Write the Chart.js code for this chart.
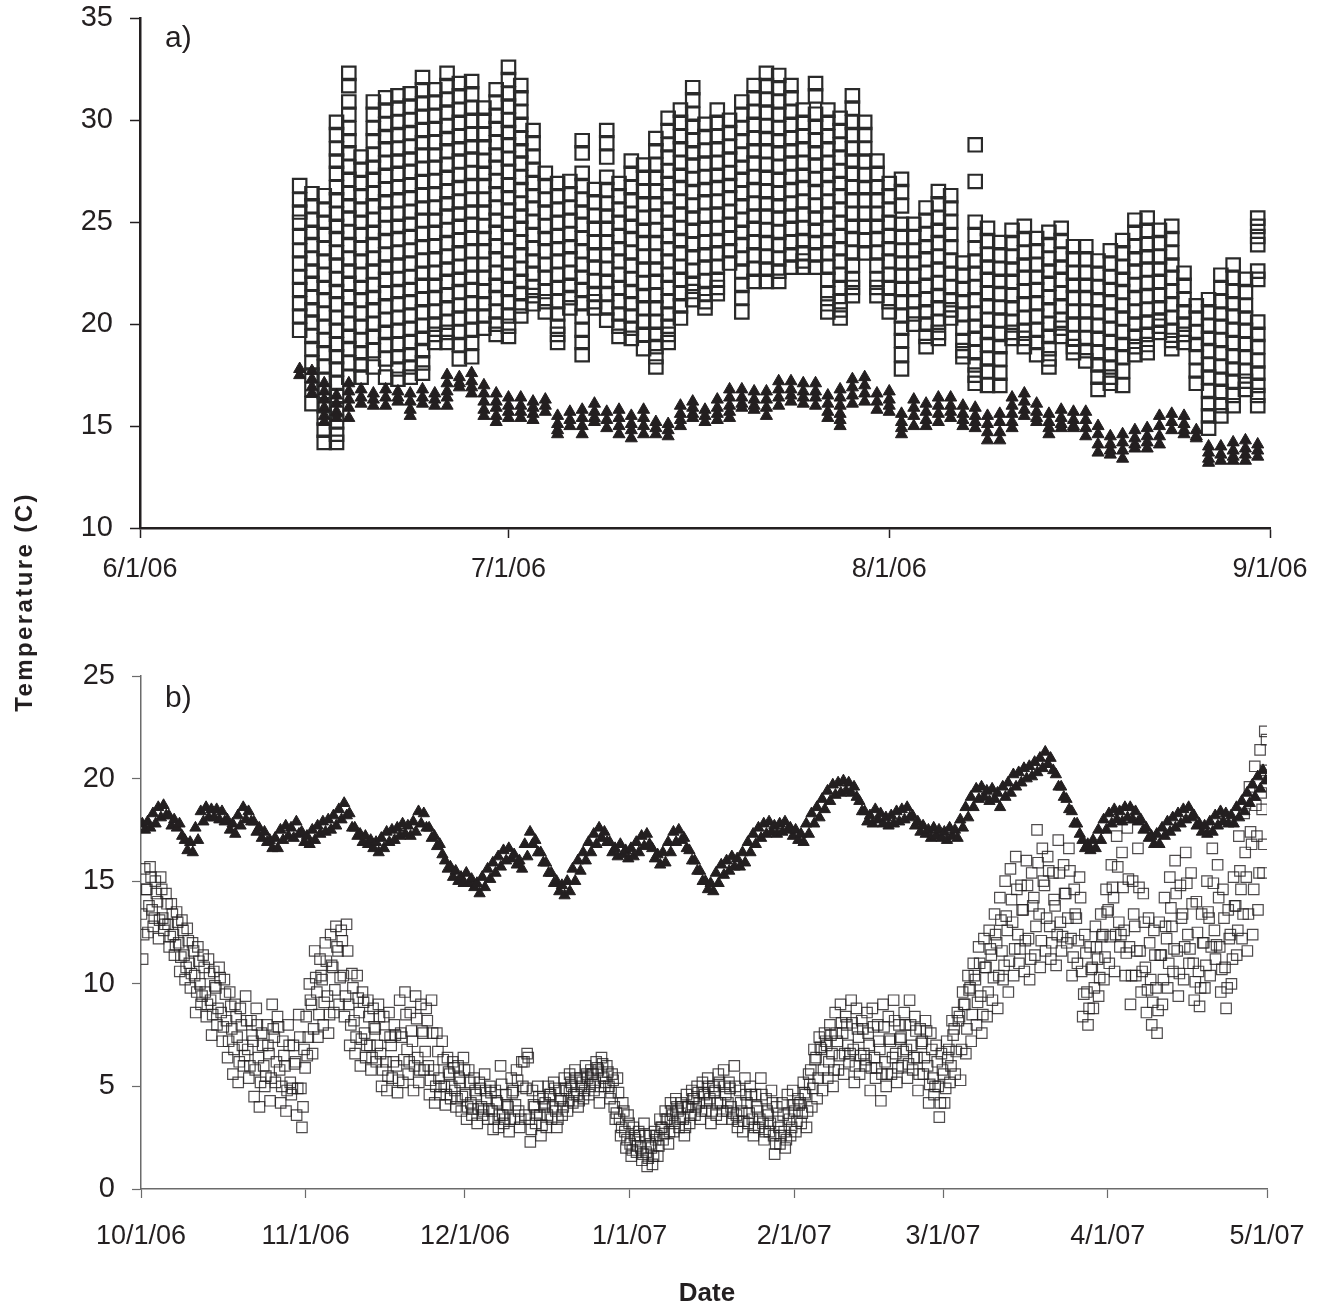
<!DOCTYPE html>
<html>
<head>
<meta charset="utf-8">
<script src="https://cdn.jsdelivr.net/npm/chart.js@4.4.1/dist/chart.umd.min.js"></script>
<style>
  body { margin: 0; background: #fff; width: 1328px; height: 1305px; position: relative; overflow: hidden;
         font-family: 'Liberation Sans', Arial, sans-serif; color: #231f20; }
  canvas { position: absolute; left: 0; }
  #chartA { top: -16px; }
  #chartB { top: 640px; }
  .panel { position: absolute; font-size: 30px; line-height: 30px; }
  #ytitle { position: absolute; left: -176px; top: 587px; width: 400px; text-align: center;
            font-weight: bold; font-size: 24px; line-height: 30px; letter-spacing: 2.4px;
            transform: rotate(-90deg); }
  #xtitle { position: absolute; left: 607px; top: 1278px; width: 200px; text-align: center;
            font-weight: bold; font-size: 26px; line-height: 28px; }
</style>
</head>
<body>
<canvas id="chartA" width="1328" height="616"></canvas>
<canvas id="chartB" width="1328" height="665"></canvas>
<div class="panel" style="left:165px; top:22px;">a)</div>
<div class="panel" style="left:165px; top:682px;">b)</div>
<div id="ytitle">Temperature (C)</div>
<div id="xtitle">Date</div>
<script>
// Axis ticks (days counted from the first tick)
const tickDaysA = [0, 30, 61, 92];
const tickLabelsA = ['6/1/06', '7/1/06', '8/1/06', '9/1/06'];
const tickDaysB = [0, 31, 61, 92, 123, 151, 182, 212];
const tickLabelsB = ['10/1/06', '11/1/06', '12/1/06', '1/1/07', '2/1/07', '3/1/07', '4/1/07', '5/1/07'];

// a) summer 2006, one column of readings per day, first column = 6/14/06
const firstDayA = 13;
const airA = [
  [26.8,26.1,25.5,25.0,24.3,23.6,23.0,22.3,21.7,21.0,20.4,19.7],
  [26.4,25.8,25.1,24.5,23.9,23.2,22.6,22.0,21.3,20.7,20.1,19.4,18.8,18.1,17.5,16.8,16.1],
  [26.3,25.6,25.0,24.4,23.7,23.1,22.4,21.8,21.2,20.5,19.9,19.2,18.6,17.9,17.3,16.7,16.0,15.4,14.8,14.2],
  [29.9,29.3,28.6,28.0,27.4,26.7,26.1,25.4,24.8,24.2,23.5,22.9,22.2,21.6,21.0,20.3,19.7,19.0,18.4,17.8,17.1,16.5,15.8,15.2,14.6,14.2],
  [32.3,31.7,30.9,30.3,29.6,29.0,28.4,27.7,27.1,26.4,25.8,25.2,24.5,23.9,23.2,22.6,22.0,21.3,20.7,20.0,19.4,18.8,18.1,17.4],
  [28.2,27.6,26.9,26.3,25.6,25.0,24.4,23.7,23.1,22.4,21.8,21.2,20.5,19.9,19.2,18.6,18.0,17.4],
  [30.9,30.3,29.6,29.0,28.3,27.7,27.1,26.4,25.8,25.1,24.5,23.9,23.2,22.6,21.9,21.3,20.7,20.0,19.4,18.7,17.9],
  [31.1,30.5,29.8,29.2,28.6,27.9,27.3,26.6,26.0,25.4,24.7,24.1,23.4,22.8,22.2,21.5,20.9,20.2,19.6,19.0,18.3,17.4],
  [31.2,30.6,29.9,29.3,28.6,28.0,27.4,26.7,26.1,25.4,24.8,24.2,23.5,22.9,22.2,21.6,21.0,20.3,19.7,19.0,18.4,17.8,17.3],
  [31.3,30.7,30.0,29.4,28.7,28.1,27.5,26.8,26.2,25.5,24.9,24.3,23.6,23.0,22.3,21.7,21.1,20.4,19.8,19.1,18.5,17.9,17.4],
  [32.1,31.5,30.8,30.2,29.5,28.9,28.3,27.6,27.0,26.3,25.7,25.1,24.4,23.8,23.1,22.5,21.9,21.2,20.6,19.9,19.3,18.7,18.1,17.6],
  [31.5,30.9,30.2,29.6,28.9,28.3,27.7,27.0,26.4,25.7,25.1,24.5,23.8,23.2,22.5,21.9,21.3,20.6,20.0,19.5,19.1],
  [32.3,31.7,31.0,30.4,29.7,29.1,28.5,27.8,27.2,26.5,25.9,25.3,24.6,24.0,23.3,22.7,22.1,21.4,20.8,20.1,19.6,19.1],
  [31.8,31.2,30.5,29.9,29.2,28.6,28.0,27.3,26.7,26.0,25.4,24.8,24.1,23.5,22.8,22.2,21.6,20.9,20.3,19.6,19.0,18.3],
  [31.9,31.3,30.6,30.0,29.3,28.7,28.1,27.4,26.8,26.1,25.5,24.9,24.2,23.6,22.9,22.3,21.7,21.0,20.4,19.7,19.1,18.4],
  [30.6,30.0,29.3,28.7,28.0,27.4,26.8,26.1,25.5,24.8,24.2,23.6,22.9,22.3,21.6,21.0,20.4,19.8],
  [31.5,30.9,30.2,29.6,28.9,28.3,27.7,27.0,26.4,25.7,25.1,24.5,23.8,23.2,22.5,21.9,21.3,20.6,20.0,19.5],
  [32.6,32.0,31.3,30.7,30.0,29.4,28.8,28.1,27.5,26.8,26.2,25.6,24.9,24.3,23.6,23.0,22.4,21.7,21.1,20.4,19.9,19.4],
  [31.7,31.1,30.4,29.8,29.1,28.5,27.9,27.2,26.6,25.9,25.3,24.7,24.0,23.4,22.7,22.1,21.5,20.9,20.4],
  [29.5,28.9,28.2,27.6,26.9,26.3,25.7,25.0,24.4,23.7,23.1,22.5,21.8,21.4,21.0],
  [27.4,26.8,26.1,25.5,24.8,24.2,23.6,22.9,22.3,21.6,21.1,20.6],
  [26.9,26.3,25.6,25.0,24.3,23.7,23.1,22.4,21.8,21.1,20.5,19.9,19.5,19.1],
  [27.0,26.4,25.7,25.1,24.4,23.8,23.2,22.5,21.9,21.3,20.8],
  [29.0,28.4,27.4,26.8,26.1,25.5,24.9,24.2,23.6,22.9,22.3,21.7,21.0,20.4,19.7,19.1,18.5],
  [26.6,26.0,25.3,24.7,24.0,23.4,22.8,22.1,21.5,21.1,20.8],
  [29.5,28.9,28.2,27.2,26.6,25.9,25.3,24.7,24.0,23.4,22.7,22.1,21.5,20.8,20.2],
  [26.9,26.3,25.6,25.0,24.3,23.7,23.1,22.4,21.8,21.1,20.5,19.9,19.4],
  [28.0,27.4,26.7,26.1,25.4,24.8,24.2,23.5,22.9,22.2,21.6,21.0,20.4,19.8,19.3],
  [27.8,27.2,26.5,25.9,25.2,24.6,24.0,23.3,22.7,22.0,21.4,20.8,20.1,19.5,18.8],
  [29.1,28.5,27.8,27.2,26.5,25.9,25.3,24.6,24.0,23.3,22.7,22.1,21.4,20.8,20.1,19.5,18.9,18.4,17.9],
  [30.1,29.5,28.8,28.2,27.5,26.9,26.3,25.6,25.0,24.3,23.7,23.1,22.4,21.8,21.1,20.5,19.9,19.5,19.1],
  [30.5,29.9,29.2,28.6,27.9,27.3,26.7,26.0,25.4,24.7,24.1,23.5,22.8,22.2,21.5,20.9,20.3],
  [31.6,31.0,30.3,29.7,29.0,28.4,27.8,27.1,26.5,25.8,25.2,24.6,23.9,23.3,22.6,22.0,21.6,21.2],
  [29.8,29.2,28.5,27.9,27.2,26.6,26.0,25.3,24.7,24.0,23.4,22.8,22.1,21.5,21.1,20.8],
  [30.5,29.9,29.2,28.6,27.9,27.3,26.7,26.0,25.4,24.7,24.1,23.5,22.8,22.2,21.8,21.5],
  [30.0,29.4,28.7,28.1,27.4,26.8,26.2,25.5,24.9,24.2,23.6,23.0],
  [30.9,30.3,29.6,29.0,28.3,27.7,27.1,26.4,25.8,25.1,24.5,23.9,23.2,22.6,21.9,21.3,20.6],
  [31.7,31.1,30.4,29.8,29.1,28.5,27.9,27.2,26.6,25.9,25.3,24.7,24.0,23.4,22.7,22.1],
  [32.3,31.7,31.0,30.4,29.7,29.1,28.5,27.8,27.2,26.5,25.9,25.3,24.6,24.0,23.3,22.7,22.1],
  [32.2,31.6,30.9,30.3,29.6,29.0,28.4,27.7,27.1,26.4,25.8,25.2,24.5,23.9,23.2,22.6,22.1],
  [31.7,31.1,30.4,29.8,29.1,28.5,27.9,27.2,26.6,25.9,25.3,24.7,24.0,23.4,22.8],
  [30.5,29.9,29.2,28.6,27.9,27.3,26.7,26.0,25.4,24.7,24.1,23.5,23.1,22.8],
  [31.8,31.2,30.3,29.7,29.0,28.4,27.8,27.1,26.5,25.8,25.2,24.6,24.0,23.4,22.8],
  [30.5,29.9,29.2,28.6,27.9,27.3,26.7,26.0,25.4,24.7,24.1,23.5,22.8,22.2,21.5,21.0,20.6],
  [30.1,29.5,28.8,28.2,27.5,26.9,26.3,25.6,25.0,24.3,23.7,23.1,22.4,21.8,21.1,20.7,20.3],
  [31.2,30.6,29.9,29.3,28.6,28.0,27.4,26.7,26.1,25.4,24.8,24.2,23.5,22.9,22.2,21.8,21.4],
  [29.9,29.3,28.6,28.0,27.3,26.7,26.1,25.4,24.8,24.1,23.5],
  [28.0,27.4,26.7,26.1,25.4,24.8,24.2,23.5,22.9,22.2,21.8,21.4],
  [26.9,26.3,25.6,25.0,24.3,23.7,23.1,22.4,21.8,21.1,20.6],
  [27.1,26.5,25.8,24.9,24.3,23.6,23.0,22.4,21.7,21.1,20.4,19.8,19.2,18.5,17.8],
  [24.9,24.3,23.6,23.0,22.4,21.7,21.1,20.5,20.0],
  [25.7,25.1,24.4,23.8,23.2,22.5,21.9,21.2,20.6,20.0,19.4,18.9],
  [26.5,25.9,25.2,24.6,24.0,23.3,22.7,22.0,21.4,20.8,20.1,19.6,19.3],
  [26.3,25.7,25.0,24.4,23.8,23.1,22.5,21.8,21.2,20.7,20.3],
  [23.0,22.4,21.7,21.1,20.5,19.8,19.2,18.7,18.4],
  [28.8,27.0,25.0,24.4,23.7,23.1,22.5,21.8,21.2,20.5,19.9,19.3,18.6,18.0,17.5,17.1],
  [24.7,24.1,23.4,22.8,22.2,21.5,20.9,20.2,19.6,19.0,18.3,17.7,17.0],
  [24.0,23.4,22.7,22.1,21.5,20.8,20.2,19.5,18.9,18.3,17.6,17.0],
  [24.6,24.0,23.3,22.7,22.1,21.4,20.8,20.1,19.6,19.3],
  [24.8,24.2,23.5,22.9,22.3,21.6,21.0,20.3,19.7,19.3,18.9],
  [24.2,23.6,22.9,22.3,21.7,21.0,20.4,19.7,19.1,18.5],
  [24.5,23.9,23.2,22.6,22.0,21.3,20.7,20.0,19.4,18.8,18.3,17.9],
  [24.7,24.1,23.4,22.8,22.2,21.5,20.9,20.2,19.8,19.4],
  [23.8,23.2,22.5,21.9,21.3,20.6,20.0,19.3,18.9,18.6],
  [23.8,23.2,22.5,21.9,21.3,20.6,20.0,19.3,18.7,18.2],
  [23.1,22.5,21.8,21.2,20.6,19.9,19.3,18.6,18.0,17.4,16.8],
  [23.6,23.0,22.3,21.7,21.1,20.4,19.8,19.1,18.5,17.9,17.4,17.1],
  [24.1,23.5,22.8,22.2,21.6,20.9,20.3,19.6,19.0,18.4,17.7,17.0],
  [25.1,24.5,23.8,23.2,22.6,21.9,21.3,20.6,20.0,19.4,18.9,18.5],
  [25.2,24.6,23.9,23.3,22.7,22.0,21.4,20.7,20.1,19.5,19.0,18.6],
  [24.6,24.0,23.3,22.7,22.1,21.4,20.8,20.2,19.9,19.6],
  [24.8,24.2,23.5,22.9,22.3,21.6,21.0,20.3,19.7,19.2,18.8],
  [22.5,21.9,21.2,20.6,20.0,19.5,19.1],
  [20.9,20.3,19.6,19.0,18.4,17.7,17.1],
  [21.2,20.6,19.9,19.3,18.7,18.0,17.4,16.7,16.1,15.5,14.9],
  [22.4,21.8,21.1,20.5,19.9,19.2,18.6,17.9,17.3,16.7,16.0,15.5],
  [22.9,22.3,21.6,21.0,20.4,19.7,19.1,18.4,17.8,17.2,16.5,16.0],
  [22.2,21.6,20.9,20.3,19.7,19.0,18.4,17.7,17.2,16.8],
  [25.2,24.8,24.3,23.9,22.6,22.2,20.1,19.5,18.9,18.2,17.6,17.0,16.5,16.0]
];
const waterA = [
  [17.8,17.5],[17.7,17.3,16.9,16.6],[17.1,16.7,16.3,15.9,15.5,15.2],[16.5,16.1,15.7,15.4],
  [17.1,16.7,16.3,15.9,15.4],[16.8,16.4,16.1],[16.6,16.3,16.0],[16.8,16.4,16.0],
  [16.7,16.4,16.2],[16.6,16.2,15.8,15.5],[16.8,16.4,16.1],[16.6,16.3,16.0],
  [17.5,17.1,16.7,16.4,16.0],[17.4,17.1,16.9],[17.6,17.2,16.9,16.6],[17.0,16.6,16.2,15.8,15.5],
  [16.6,16.2,15.9,15.5,15.2],[16.4,16.0,15.7,15.4],[16.4,16.0,15.7,15.4],[16.2,15.9,15.6,15.3],
  [16.3,16.0,15.7],[15.5,15.1,14.8,14.6],[15.7,15.3,15.0],[15.8,15.4,15.0,14.6],
  [16.1,15.7,15.4,15.2],[15.7,15.3,14.9],[15.8,15.4,15.0,14.6],[15.5,15.1,14.8,14.4],
  [15.8,15.4,15.0,14.6],[15.2,14.9,14.6],[15.1,14.8,14.5],[16.0,15.6,15.3,15.0],
  [16.2,15.9,15.6,15.4],[15.8,15.5,15.2],[16.3,15.9,15.6,15.3],[16.8,16.4,16.0,15.7,15.4],
  [16.8,16.4,16.1,15.9],[16.7,16.3,16.0,15.8],[16.7,16.3,15.9,15.5],[17.2,16.8,16.4,16.0],
  [17.2,16.8,16.5,16.2],[17.1,16.7,16.4,16.1],[17.1,16.7,16.4,16.0],[16.5,16.1,15.7,15.4],
  [16.8,16.4,16.0,15.6,15.3,15.0],[17.3,16.9,16.5,16.1],[17.4,17.0,16.6,16.2],[16.6,16.2,15.8],
  [16.7,16.3,16.0,15.7],[15.6,15.2,14.9,14.6],[16.3,15.9,15.5,15.0],[16.1,15.7,15.3,15.0],
  [16.4,16.0,15.6,15.2],[16.4,16.0,15.7,15.4],[16.0,15.6,15.3,15.0],[15.9,15.5,15.2,14.9],
  [15.5,15.1,14.7,14.3],[15.6,15.2,14.7,14.3],[16.4,16.0,15.6,15.2,14.9],[16.6,16.2,15.8,15.5],
  [16.1,15.7,15.4,15.2],[15.6,15.2,14.9,14.6],[15.8,15.4,15.1,14.9],[15.7,15.3,15.0,14.9],
  [15.7,15.3,14.9,14.5],[15.0,14.6,14.1,13.7],[14.5,14.1,13.8,13.6],[14.6,14.2,13.8,13.4],
  [14.8,14.4,14.1,13.9],[14.9,14.5,14.2,13.9],[15.5,15.0,14.5,14.1],[15.6,15.2,14.8],
  [15.5,15.1,14.8,14.6],[14.8,14.5,14.4],[14.0,13.7,13.4,13.2],[14.0,13.6,13.3],
  [14.2,13.8,13.5,13.3],[14.3,13.9,13.6,13.3],[14.1,13.8,13.5]
];

// b) 10/1/06 - 4/30/07, readings of each day in time order, day 0 = 10/1/06
const airB = [
  [13.4,11.2,12.4,15.6,14.6],[14.6,12.5,13.8,15.7,15.2],[13.6,12.8,13.2,15.0,14.4],[14.0,12.2,13.1,15.2,14.6],[13.2,12.6,12.9,14.4,13.9],
  [12.9,11.8,12.3,13.9,13.4],[12.4,11.4,11.9,13.5,13.0],[12.0,10.6,11.3,13.1,12.6],[11.4,10.2,10.8,12.7,12.1],[11.0,9.8,10.5,12.0,11.6],
  [10.4,8.6,9.6,11.8,11.1],[10.0,9.0,9.4,11.4,10.8],[9.6,8.4,9.0,11.2,10.5],[9.2,7.5,8.5,10.6,9.9],[9.8,8.0,8.8,10.8,10.3],
  [8.6,7.2,7.9,10.2,9.5],[8.2,6.4,7.2,9.6,8.9],[7.8,5.6,6.8,9.0,8.4],[7.4,5.2,6.2,8.8,8.0],[7.0,6.0,6.5,9.4,8.2],
  [6.8,5.4,6.0,8.2,7.5],[7.2,4.5,5.8,8.8,8.0],[6.4,4.0,5.2,7.6,7.0],[6.0,5.0,5.5,8.0,7.0],[6.6,4.3,5.4,9.0,7.8],
  [7.4,5.2,6.2,8.4,7.9],[5.8,4.2,5.0,7.2,6.5],[6.0,3.8,4.8,8.0,7.0],[5.2,4.6,4.9,7.0,6.1],[6.2,3.6,4.9,8.5,7.4],
  [4.9,3.0,4.0,6.8,5.9],[8.4,6.5,7.4,10.0,9.2],[9.0,6.6,7.8,11.6,10.3],[9.6,7.4,8.5,11.2,10.4],[10.2,8.0,9.1,12.0,11.1],
  [9.4,7.6,8.5,12.4,10.9],[10.8,8.6,9.7,12.8,11.8],[11.6,9.0,10.3,12.6,12.1],[10.4,8.4,9.4,12.9,11.6],[9.0,7.0,8.0,10.5,9.8],
  [8.2,6.6,7.4,10.4,9.3],[8.6,6.0,7.3,9.6,9.1],[7.6,6.4,7.0,9.2,8.4],[7.0,5.8,6.4,8.8,7.9],[7.8,6.2,7.0,9.0,8.4],
  [6.6,5.0,5.8,8.4,7.5],[6.2,4.8,5.5,8.6,7.4],[7.0,5.4,6.2,8.0,7.5],[6.0,4.7,5.3,9.2,7.6],[7.4,5.2,6.3,9.6,8.5],
  [6.8,5.6,6.2,8.6,7.7],[7.2,4.8,6.0,9.4,8.3],[6.4,5.2,5.8,9.0,7.7],[7.6,5.8,6.7,8.8,8.2],[6.0,4.6,5.3,9.2,7.6],
  [5.8,4.2,5.0,7.6,6.7],[5.4,4.6,5.0,7.2,6.3],[5.0,4.1,4.6,6.4,5.7],[5.6,4.4,5.0,6.2,5.9],[4.8,4.0,4.4,6.0,5.4],
  [5.2,3.8,4.5,6.4,5.8],[4.6,3.4,4.0,5.8,5.2],[4.2,3.6,3.9,5.4,4.8],[4.6,3.2,3.9,5.2,4.9],[4.0,3.6,3.8,5.6,4.8],
  [4.4,3.4,3.9,5.0,4.7],[3.8,2.9,3.4,4.8,4.3],[4.2,3.0,3.6,6.0,5.1],[3.6,3.2,3.4,4.6,4.1],[4.0,2.8,3.4,5.4,4.7],
  [4.8,3.4,4.1,5.8,5.3],[3.8,3.0,3.4,6.2,5.0],[6.2,3.6,4.9,6.6,6.4],[3.4,2.3,2.9,4.8,4.1],[4.0,3.2,3.6,5.0,4.5],
  [3.6,2.6,3.1,4.4,4.0],[4.2,3.0,3.6,5.0,4.6],[4.6,3.4,4.0,5.2,4.9],[3.8,3.0,3.4,4.8,4.3],[4.4,3.6,4.0,5.4,4.9],
  [4.8,3.8,4.3,5.6,5.2],[5.0,4.2,4.6,5.8,5.4],[4.6,4.0,4.3,5.4,5.0],[5.2,4.4,4.8,6.0,5.6],[5.4,4.6,5.0,5.8,5.6],
  [5.6,4.8,5.2,6.2,5.9],[5.8,4.2,5.0,6.4,6.1],[5.4,5.0,5.2,6.0,5.7],[5.0,4.4,4.7,5.6,5.3],[4.0,3.4,3.7,5.4,4.7],
  [3.4,2.6,3.0,4.2,3.8],[2.8,2.0,2.4,3.6,3.2],[2.2,1.6,1.9,3.0,2.6],[2.4,1.8,2.1,2.8,2.6],[2.0,1.4,1.7,3.2,2.6],
  [1.8,1.1,1.5,2.6,2.2],[2.0,1.2,1.6,2.8,2.4],[2.6,1.6,2.1,3.4,3.0],[3.0,2.4,2.7,3.8,3.4],[3.4,2.2,2.8,4.2,3.8],
  [3.6,2.8,3.2,4.4,4.0],[3.8,3.0,3.4,4.2,4.0],[3.4,2.6,3.0,4.6,4.0],[4.0,3.2,3.6,4.8,4.4],[4.4,3.6,4.0,5.0,4.7],
  [4.2,3.4,3.8,5.2,4.7],[4.6,3.8,4.2,5.4,5.0],[4.4,3.2,3.8,5.0,4.7],[4.8,3.6,4.2,5.6,5.2],[4.2,3.4,3.8,5.8,5.0],
  [4.6,3.8,4.2,5.2,4.9],[4.0,3.4,3.7,6.0,5.0],[3.6,3.0,3.3,4.8,4.2],[3.8,2.8,3.3,5.4,4.6],[4.2,3.2,3.7,5.0,4.6],
  [3.4,2.6,3.0,4.6,4.0],[3.8,3.0,3.4,5.4,4.6],[3.2,2.4,2.8,4.4,3.8],[3.6,2.8,3.2,4.8,4.2],[2.6,1.7,2.2,4.0,3.3],
  [3.0,2.2,2.6,4.2,3.6],[2.8,2.0,2.4,4.6,3.7],[3.4,2.6,3.0,4.8,4.1],[3.8,2.8,3.3,4.4,4.1],[4.2,3.2,3.7,5.2,4.7],
  [4.6,3.0,3.8,5.6,5.1],[5.8,4.0,4.9,6.8,6.3],[6.4,4.4,5.4,7.4,6.9],[6.8,4.8,5.8,7.6,7.2],[7.0,5.4,6.2,8.0,7.5],
  [6.6,5.0,5.8,8.6,7.6],[7.2,5.8,6.5,9.0,8.1],[7.6,5.6,6.6,8.4,8.0],[7.0,6.2,6.6,9.2,8.1],[6.8,5.2,6.0,8.8,7.8],
  [7.4,5.6,6.5,8.2,7.8],[6.6,6.0,6.3,8.6,7.6],[7.0,4.8,5.9,8.8,7.9],[6.4,5.4,5.9,8.0,7.2],[6.8,4.3,5.6,9.0,7.9],
  [6.2,5.0,5.6,8.4,7.3],[7.2,5.6,6.4,9.2,8.2],[6.6,5.2,5.9,8.0,7.3],[7.4,6.0,6.7,8.6,8.0],[6.8,5.4,6.1,9.2,8.0],
  [7.0,5.8,6.4,8.4,7.7],[6.4,4.8,5.6,7.8,7.1],[7.2,5.6,6.4,8.2,7.7],[6.0,4.2,5.1,7.6,6.8],[5.4,4.6,5.0,7.0,6.2],
  [5.0,3.5,4.2,6.6,5.8],[5.6,4.2,4.9,7.2,6.4],[6.8,5.2,6.0,8.2,7.5],[7.8,5.6,6.7,8.6,8.2],[8.4,5.3,6.8,9.6,9.0],
  [9.0,6.6,7.8,10.4,9.7],[9.8,7.2,8.5,11.0,10.4],[10.2,8.0,9.1,11.8,11.0],[9.4,7.6,8.5,12.2,10.8],[10.8,8.4,9.6,12.6,11.7],
  [11.4,9.2,10.3,13.4,12.4],[12.0,8.8,10.4,14.2,13.1],[11.6,10.2,10.9,15.0,13.3],[12.6,9.6,11.1,15.6,14.1],[13.0,10.4,11.7,16.2,14.6],
  [12.4,11.0,11.7,14.8,13.6],[13.6,10.6,12.1,16.0,14.8],[12.2,10.2,11.2,15.4,13.8],[14.2,11.4,12.8,17.5,15.9],[13.4,10.8,12.1,16.6,15.0],
  [14.8,11.6,13.2,16.2,15.5],[12.8,11.2,12.0,15.4,14.1],[13.8,10.9,12.4,17.0,15.4],[13.0,11.6,12.3,15.8,14.4],[14.4,12.0,13.2,16.6,15.5],
  [12.2,10.4,11.3,14.6,13.4],[13.2,11.0,12.1,15.2,14.2],[10.6,8.4,9.5,12.4,11.5],[9.6,8.0,8.8,11.8,10.7],[10.8,8.8,9.8,12.8,11.8],
  [11.2,9.4,10.3,13.4,12.3],[12.4,10.2,11.3,14.6,13.5],[13.6,11.0,12.3,15.8,14.7],[14.2,10.6,12.4,17.2,15.7],[13.0,11.8,12.4,16.4,14.7],
  [12.6,10.4,11.5,17.6,15.1],[11.8,9.0,10.4,15.0,13.4],[12.8,10.4,11.6,16.6,14.7],[11.6,9.6,10.6,14.4,13.0],[10.8,8.6,9.7,13.2,12.0],
  [10.2,8.0,9.1,12.6,11.4],[9.8,7.6,8.7,13.0,11.4],[11.4,9.0,10.2,14.2,12.8],[12.2,9.8,11.0,15.2,13.7],[12.8,10.6,11.7,16.0,14.4],
  [11.6,9.4,10.5,14.8,13.2],[13.4,10.2,11.8,16.4,14.9],[12.4,11.0,11.7,15.4,13.9],[11.0,9.2,10.1,14.0,12.5],[10.6,8.9,9.8,13.4,12.0],
  [12.0,9.8,10.9,15.0,13.5],[13.2,10.4,11.8,16.6,14.9],[12.6,11.2,11.9,15.8,14.2],[11.8,9.6,10.7,14.6,13.2],[10.8,8.8,9.8,13.6,12.2],
  [12.4,10.0,11.2,15.2,13.8],[13.8,11.4,12.6,17.2,15.5],[14.6,12.2,13.4,18.3,16.4],[15.2,11.6,13.4,19.6,17.4],[16.8,12.4,14.6,20.6,18.7],
  [17.2,13.6,15.4,21.4,19.3],[18.5,15.4,16.8,22.3,20.4,21.9]
];
const waterB = [
  [17.8,17.5],[17.9,17.6],[18.3,17.8],[18.6,18.1],[18.7,18.2],[18.2,17.7],[18.0,17.6],[17.8,17.2],[17.0,16.5],[16.9,16.4],
  [17.6,17.0],[18.4,17.9],[18.6,18.1],[18.5,18.1],[18.5,18.0],[18.4,17.9],[18.0,17.5],[17.8,17.3],[18.2,17.7],[18.6,18.0],
  [18.4,17.9],[17.9,17.4],[17.6,17.1],[17.4,16.9],[17.0,16.6],[17.1,16.6],[17.5,17.0],[17.7,17.2],[17.6,17.1],[17.9,17.3],
  [17.4,16.9],[17.2,16.8],[17.5,17.0],[17.7,17.3],[17.9,17.4],[18.0,17.5],[18.2,17.7],[18.5,18.0],[18.8,18.2],[18.3,17.6],
  [17.6,17.2],[17.3,16.9],[17.2,16.8],[17.0,16.6],[16.9,16.4],[17.1,16.6],[17.4,16.9],[17.5,17.0],[17.6,17.2],[17.8,17.3],
  [17.7,17.2],[17.9,17.4],[18.4,17.8],[18.3,17.6],[17.6,17.1],[17.2,16.7],[16.8,16.3],[16.0,15.6],[15.7,15.2],[15.5,15.0],
  [15.2,14.9],[15.4,14.9],[15.1,14.7],[14.9,14.4],[15.2,14.7],[15.6,15.1],[15.9,15.4],[16.2,15.7],[16.5,16.0],[16.6,16.1],
  [16.3,15.8],[16.0,15.6],[16.8,16.2],[17.4,16.8],[17.0,16.4],[16.4,15.9],[15.9,15.4],[15.4,14.9],[15.0,14.5],[14.8,14.3],
  [15.0,14.5],[15.6,15.0],[16.0,15.5],[16.4,16.0],[16.9,16.4],[17.3,16.8],[17.6,17.1],[17.4,16.9],[16.9,16.4],[16.6,16.2],
  [16.8,16.3],[16.5,16.1],[16.6,16.2],[16.9,16.4],[17.2,16.7],[17.3,16.8],[16.6,16.1],[16.3,15.8],[16.4,15.9],[16.9,16.4],
  [17.4,16.9],[17.5,17.0],[17.1,16.6],[16.5,16.0],[16.0,15.5],[15.5,15.0],[15.0,14.6],[14.9,14.5],[15.4,14.9],[15.8,15.3],
  [16.0,15.5],[16.2,15.7],[16.1,15.7],[16.4,15.9],[16.9,16.4],[17.3,16.8],[17.6,17.1],[17.8,17.3],[17.9,17.4],[17.7,17.3],
  [17.8,17.4],[17.9,17.5],[17.6,17.2],[17.5,17.0],[17.3,16.9],[17.8,17.3],[18.3,17.8],[18.6,18.1],[19.0,18.5],[19.4,18.9],
  [19.7,19.2],[19.8,19.3],[19.9,19.4],[19.8,19.3],[19.6,19.1],[18.9,18.4],[18.4,17.9],[18.2,17.8],[18.5,18.0],[18.3,17.8],
  [18.1,17.7],[18.2,17.8],[18.4,17.9],[18.5,18.0],[18.6,18.1],[18.2,17.7],[17.9,17.4],[17.7,17.3],[17.5,17.1],[17.6,17.2],
  [17.5,17.1],[17.4,17.0],[17.6,17.2],[17.5,17.1],[18.0,17.6],[18.6,18.1],[19.1,18.6],[19.5,19.0],[19.6,19.1],[19.4,18.9],
  [19.5,19.0],[19.3,18.6],[19.6,19.1],[19.8,19.3],[20.2,19.6],[20.3,19.8],[20.5,20.0],[20.6,20.1],[20.8,20.3],[21.0,20.5],
  [21.3,20.7],[21.0,20.4],[20.2,19.6],[19.6,19.1],[19.0,18.5],[18.4,17.8],[17.8,17.3],[17.0,16.6],[16.8,16.5],[17.0,16.6],
  [17.5,17.0],[18.0,17.5],[18.3,17.8],[18.5,18.0],[18.4,17.9],[18.6,18.1],[18.6,18.0],[18.4,17.9],[18.0,17.5],[17.6,17.1],
  [17.2,16.8],[17.3,16.8],[17.6,17.2],[17.9,17.4],[18.1,17.6],[18.3,17.8],[18.5,18.0],[18.6,18.1],[18.2,17.7],[17.8,17.4],
  [17.7,17.3],[17.9,17.4],[18.2,17.7],[18.4,17.9],[18.3,17.8],[18.2,17.8],[18.6,18.1],[18.9,18.4],[19.3,18.8],[19.7,19.1],
  [20.1,19.5],[20.4,19.9]
];

const ink = '#231f20';
Chart.defaults.font.family = "'Liberation Sans', Arial, sans-serif";
Chart.defaults.color = ink;

// every reading of a day sits on that day's date
function columnPoints(first, rows) {
  const pts = [];
  rows.forEach((vals, i) => vals.forEach(v => pts.push({ x: first + i, y: v })));
  return pts;
}
// readings of a day spread through the day in time order
function dayPoints(rows) {
  const pts = [];
  rows.forEach((vals, i) => vals.forEach((v, k) => pts.push({ x: i + (k + 0.5) / vals.length, y: v })));
  return pts;
}

function scalesFor(o) {
  return {
    x: {
      type: 'linear', min: 0, max: o.xMax,
      afterBuildTicks: s => { s.ticks = o.tickDays.map(v => ({ value: v })); },
      afterFit: s => { s.height = o.xHeight; },
      ticks: { callback: (v, i) => o.tickLabels[i], font: { size: 27 }, color: ink,
               padding: o.xPad, maxRotation: 0, autoSkip: false },
      grid: { drawOnChartArea: false, tickLength: o.tick, tickWidth: o.tickW, tickColor: o.axis },
      border: { color: o.axis, width: o.axisW }
    },
    y: {
      min: o.yMin, max: o.yMax,
      afterFit: s => { s.width = o.yWidth; },
      ticks: { stepSize: 5, font: { size: 29 }, color: ink, padding: 17 },
      grid: { drawOnChartArea: false, tickLength: o.tick, tickWidth: o.tickW, tickColor: o.axis },
      border: { color: o.axis, width: o.axisW }
    }
  };
}

// a) summer
new Chart(document.getElementById('chartA'), {
  type: 'scatter',
  data: {
    datasets: [
      {
        label: 'Water',
        data: columnPoints(firstDayA, waterA),
        pointStyle: 'triangle', pointRadius: 7,
        backgroundColor: ink, borderColor: ink, borderWidth: 1
      },
      {
        label: 'Air',
        data: columnPoints(firstDayA, airA),
        pointStyle: 'rect', pointRadius: 9.5,
        backgroundColor: 'rgba(0,0,0,0)', borderColor: '#2a2a2a', borderWidth: 2.2
      }
    ]
  },
  options: {
    responsive: false, animation: false, events: [],
    layout: { padding: { top: 0, right: 58, bottom: 0, left: 0 } },
    plugins: { legend: { display: false }, tooltip: { enabled: false } },
    scales: scalesFor({ xMax: 92, tickDays: tickDaysA, tickLabels: tickLabelsA, xHeight: 72, xPad: 15,
                        yMin: 10, yMax: 35, yWidth: 140, tick: 10, tickW: 1.5, axis: ink, axisW: 2.5 })
  }
});

// b) fall - spring
new Chart(document.getElementById('chartB'), {
  type: 'scatter',
  data: {
    datasets: [
      {
        label: 'Water',
        data: dayPoints(waterB),
        pointStyle: 'triangle', pointRadius: 6.5,
        backgroundColor: ink, borderColor: ink, borderWidth: 1
      },
      {
        label: 'Air',
        data: dayPoints(airB),
        pointStyle: 'rect', pointRadius: 7.4,
        backgroundColor: 'rgba(0,0,0,0)', borderColor: 'rgba(35,31,32,0.8)', borderWidth: 1.2
      }
    ]
  },
  options: {
    responsive: false, animation: false, events: [],
    layout: { padding: { top: 36, right: 61, bottom: 0, left: 0 } },
    plugins: { legend: { display: false }, tooltip: { enabled: false } },
    scales: scalesFor({ xMax: 212, tickDays: tickDaysB, tickLabels: tickLabelsB, xHeight: 116, xPad: 22,
                        yMin: 0, yMax: 25, yWidth: 141, tick: 9, tickW: 1.2, axis: '#6b6b6b', axisW: 1.5 })
  }
});
</script>
</body>
</html>
